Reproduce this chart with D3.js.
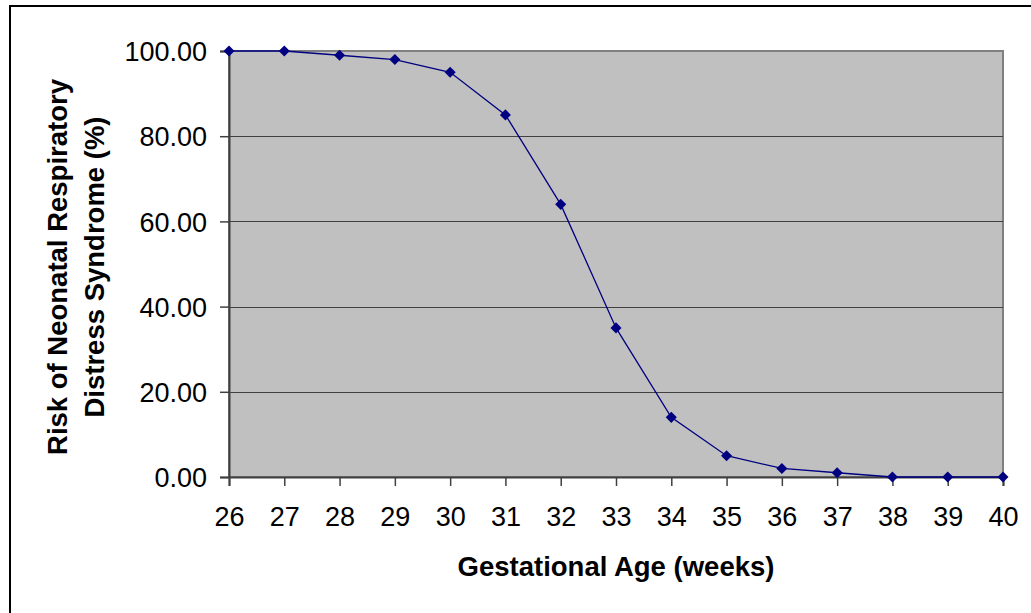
<!DOCTYPE html>
<html>
<head>
<meta charset="utf-8">
<script src="https://cdn.jsdelivr.net/npm/d3@7"></script>
<style>
  body { margin: 0; background: #fff; }
  svg { display: block; font-family: "Liberation Sans", Arial, sans-serif; }
</style>
</head>
<body>
<svg id="chart" width="1031" height="613"></svg>
<script>
// data
var weeks = [26, 27, 28, 29, 30, 31, 32, 33, 34, 35, 36, 37, 38, 39, 40];
var risk = [100, 100, 99, 98, 95, 85, 64, 35, 14, 5, 2, 1, 0, 0, 0];
var yTicks = [0, 20, 40, 60, 80, 100];
var xTitle = "Gestational Age (weeks)";
var yTitle = ["Risk of Neonatal Respiratory", "Distress Syndrome (%)"];

var svg = d3.select("#chart");
var plot = { left: 229, right: 1003, top: 51, bottom: 477 };

var x = d3.scaleLinear().domain([26, 40]).range([plot.left, plot.right]);
var y = d3.scaleLinear().domain([0, 100]).range([plot.bottom, plot.top]);

// outer chart border (runs off the right and bottom of the picture)
svg.append("rect")
  .attr("x", 10).attr("y", 6)
  .attr("width", 1100).attr("height", 700)
  .attr("fill", "none")
  .attr("stroke", "#000")
  .attr("stroke-width", 2);

// plot area
svg.append("rect")
  .attr("x", plot.left).attr("y", plot.top)
  .attr("width", plot.right - plot.left)
  .attr("height", plot.bottom - plot.top)
  .attr("fill", "#c0c0c0")
  .attr("stroke", "#808080")
  .attr("stroke-width", 2);

// gridlines
svg.append("g")
  .selectAll("line")
  .data(yTicks.filter(d => d > 0 && d < 100))
  .enter()
  .append("line")
  .attr("x1", plot.left).attr("x2", plot.right)
  .attr("y1", d => Math.round(y(d)) + 0.5)
  .attr("y2", d => Math.round(y(d)) + 0.5)
  .attr("stroke", "#404040")
  .attr("stroke-width", 1);

// axes
var yAxis = d3.axisLeft(y)
  .tickValues(yTicks)
  .tickSize(9)
  .tickPadding(13)
  .tickFormat(d3.format(".2f"));
var xAxis = d3.axisBottom(x)
  .tickValues(weeks)
  .tickSize(9)
  .tickPadding(21)
  .tickFormat(d3.format("d"));

var gy = svg.append("g")
  .attr("transform", "translate(" + plot.left + ",0)")
  .call(yAxis);
var gx = svg.append("g")
  .attr("transform", "translate(0," + plot.bottom + ")")
  .call(xAxis);

[gx, gy].forEach(function (g) {
  g.select(".domain").attr("stroke", "#404040").attr("stroke-width", 2);
  g.selectAll(".tick line").attr("stroke", "#404040").attr("stroke-width", 1.5);
  g.selectAll(".tick text")
    .attr("fill", "#000")
    .style("font-size", "27px")
    .style("font-family", "'Liberation Sans', Arial, sans-serif");
});
gy.selectAll(".tick text").attr("dy", "0.36em");

// series line
var line = d3.line()
  .x((d, i) => x(weeks[i]))
  .y(d => y(d));

svg.append("path")
  .datum(risk)
  .attr("d", line)
  .attr("fill", "none")
  .attr("stroke", "#000080")
  .attr("stroke-width", 1.3);

// diamond markers
var diamond = d3.symbol().type(d3.symbolDiamond2).size(78);
svg.append("g")
  .selectAll("path")
  .data(risk)
  .enter()
  .append("path")
  .attr("d", diamond)
  .attr("transform", (d, i) => "translate(" + x(weeks[i]) + "," + y(d) + ")")
  .attr("fill", "#000080");

// axis titles
svg.append("text")
  .attr("x", (plot.left + plot.right) / 2)
  .attr("y", 576)
  .attr("text-anchor", "middle")
  .style("font-size", "27.5px")
  .style("font-weight", "bold")
  .text(xTitle);

var yt = svg.append("text")
  .attr("transform", "translate(0," + 267 + ") rotate(-90)")
  .attr("text-anchor", "middle")
  .style("font-size", "27.5px")
  .style("font-weight", "bold");
yt.selectAll("tspan")
  .data(yTitle)
  .enter()
  .append("tspan")
  .attr("x", 0)
  .attr("y", (d, i) => 67 + i * 37)
  .text(d => d);
</script>
</body>
</html>
